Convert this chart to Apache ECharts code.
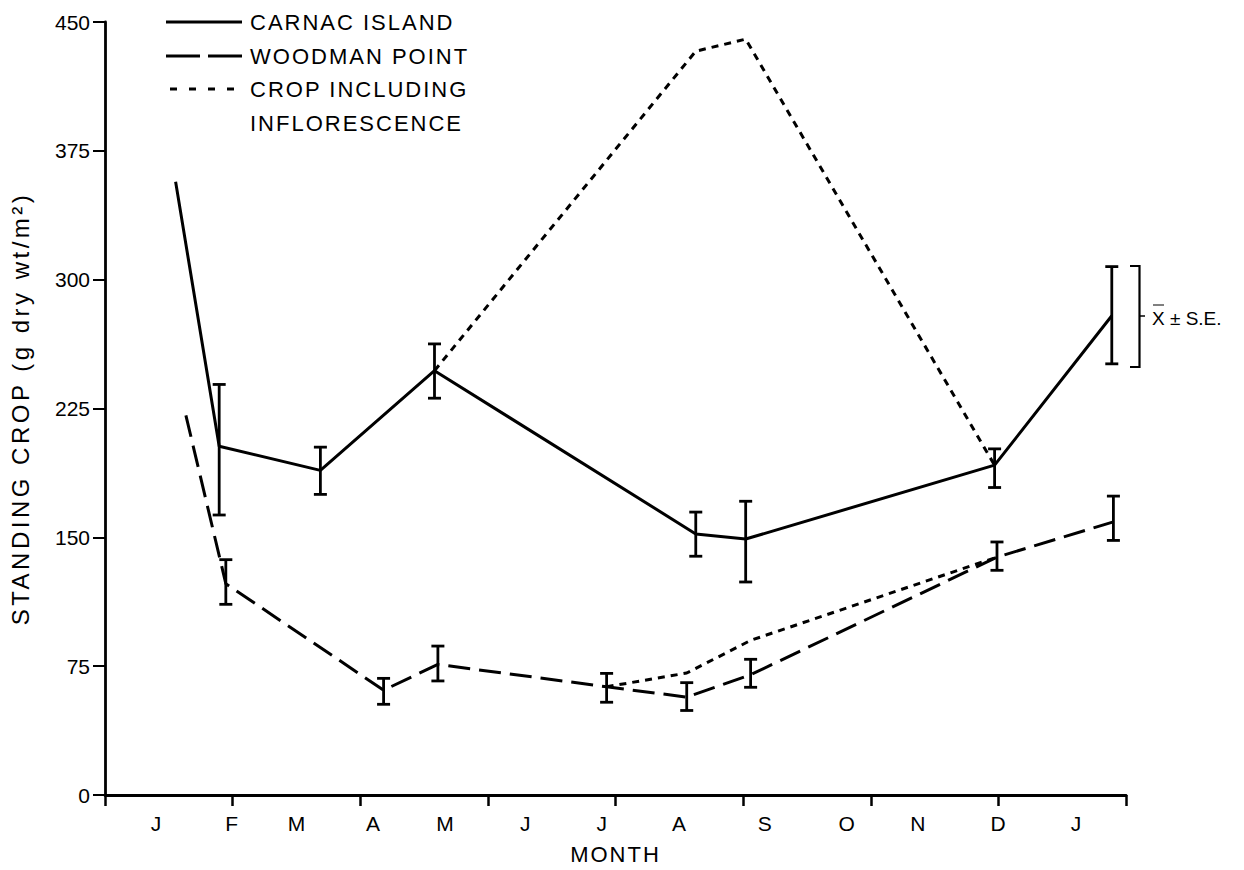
<!DOCTYPE html>
<html>
<head>
<meta charset="utf-8">
<script src="https://cdn.jsdelivr.net/npm/echarts@6/dist/echarts.min.js"></script>
<style>
  html, body { margin: 0; padding: 0; background: #fff; }
  #chart { width: 1244px; height: 870px; }
  /* the lettering of titles and key is set wide */
  #chart svg text[style*="22px"] { letter-spacing: 2px; }
  #chart svg text[style*="24px"] { letter-spacing: 3.5px; }
</style>
</head>
<body>
<div id="chart"></div>
<script>
// x values are in months, 0 = start of the first January
const monthLabels = ['J', 'F', 'M', 'A', 'M', 'J', 'J', 'A', 'S', 'O', 'N', 'D', 'J'];
const monthLabelPos = [0.66, 1.64, 2.48, 3.47, 4.40, 5.44, 6.43, 7.43, 8.54, 9.60, 10.52, 11.56, 12.57];
const sampleTickStep = 1.652;
const sampleTickCount = 9;
const yMin = 0, yMax = 450, yStep = 75;

// Carnac Island: mean standing crop with standard error limits
const carnacMonth = [0.914, 1.478, 2.788, 4.265, 7.647, 8.293, 11.515, 13.032];
const carnacMean  = [357, 203, 189, 247, 152, 149, 192, 279];
const carnacLow   = [null, 163, 175, 231, 139, 124, 179, 251];
const carnacHigh  = [null, 239, 202.5, 262.6, 164.7, 171, 201.5, 307.6];

// Woodman Point
const woodmanMonth = [1.047, 1.564, 3.606, 4.309, 6.493, 7.530, 8.357, 11.546, 13.053];
const woodmanMean  = [221, 123, 61, 76, 63, 57, 70, 138.5, 159];
const woodmanLow   = [null, 111, 52.8, 66.4, 54, 49.2, 62.7, 130.8, 148.2];
const woodmanHigh  = [null, 137, 67.9, 86.7, 70.8, 65.4, 79, 147.3, 174];

// Crop including inflorescence, above each site's vegetative crop
const inflCarnacMonth  = [4.265, 7.647, 8.293, 11.515];
const inflCarnac       = [247, 433, 440, 192];
const inflWoodmanMonth = [6.493, 7.530, 8.357, 11.546];
const inflWoodman      = [63, 71, 90, 138.5];

const INK = '#000';
const FONT = '"Liberation Sans", Arial, Helvetica, sans-serif';

const pairs = (xs, ys) => xs.map((x, i) => [x, ys[i]]);
const bars = (xs, lo, hi) => xs.map((x, i) => [x, lo[i], hi[i]]).filter(d => d[1] != null);
const sampleTicks = Array.from({ length: sampleTickCount }, (_, i) => +(i * sampleTickStep).toFixed(3));

function errorBar(params, api) {
  const x = api.value(0);
  const top = api.coord([x, api.value(2)]);
  const bot = api.coord([x, api.value(1)]);
  const half = 6.5;
  const style = { stroke: INK, lineWidth: 2.8 };
  return {
    type: 'group',
    children: [
      { type: 'line', shape: { x1: top[0], y1: top[1], x2: bot[0], y2: bot[1] }, style },
      { type: 'line', shape: { x1: top[0] - half, y1: top[1], x2: top[0] + half, y2: top[1] }, style },
      { type: 'line', shape: { x1: bot[0] - half, y1: bot[1], x2: bot[0] + half, y2: bot[1] }, style }
    ]
  };
}

const lineSeries = (name, data, type) => ({
  name, type: 'line', data, symbol: 'none', silent: true,
  lineStyle: { color: INK, width: 3, type, cap: 'butt', join: 'round' },
  z: 3
});

const barSeries = (name, data) => ({
  name, type: 'custom', data, renderItem: errorBar, silent: true,
  encode: { x: 0, y: [1, 2] }, z: 4
});

// key drawn in the top-left corner
const keyText = (x, y, text) => ({
  type: 'text', x, y,
  style: { text, fill: INK, font: '22px ' + FONT, align: 'left', verticalAlign: 'middle' }
});
const keyLine = (x1, x2, y) => ({
  type: 'line', shape: { x1, y1: y, x2, y2: y },
  style: { stroke: INK, lineWidth: 3 }
});

const graphics = [
  keyLine(166, 242, 22), keyText(250, 22, 'CARNAC ISLAND'),
  keyLine(166, 200, 56), keyLine(208, 242, 56), keyText(250, 56, 'WOODMAN POINT'),
  keyLine(170, 177, 89), keyLine(189, 196, 89), keyLine(208, 215, 89), keyLine(227, 234, 89),
  keyText(250, 89, 'CROP INCLUDING'),
  keyText(250, 123, 'INFLORESCENCE'),
  // bracket explaining the error bars
  { type: 'polyline', shape: { points: [[1130, 266], [1139.5, 266], [1139.5, 367], [1130, 367]] },
    style: { stroke: INK, lineWidth: 2.2, fill: null } },
  { type: 'line', shape: { x1: 1139.5, y1: 316, x2: 1145, y2: 316 }, style: { stroke: INK, lineWidth: 1.5 } },
  { type: 'text', x: 1152, y: 318,
    style: { text: 'X ± S.E.', fill: INK, font: '19px ' + FONT, align: 'left', verticalAlign: 'middle' } },
  { type: 'line', shape: { x1: 1153, y1: 305, x2: 1164, y2: 305 }, style: { stroke: INK, lineWidth: 1 } }
];

const chart = echarts.init(document.getElementById('chart'), null, { renderer: 'svg' });
chart.setOption({
  backgroundColor: '#fff',
  animation: false,
  grid: { left: 103, right: 118, top: 22, bottom: 73, containLabel: false },
  xAxis: {
    type: 'value',
    min: 0,
    max: sampleTicks[sampleTicks.length - 1],
    name: 'MONTH',
    nameLocation: 'middle',
    nameGap: 48,
    nameTextStyle: { color: INK, fontSize: 22, fontFamily: FONT },
    axisLine: { lineStyle: { color: INK, width: 2.8 } },
    axisTick: { show: true, customValues: sampleTicks, length: 11, lineStyle: { color: INK, width: 2.5 } },
    axisLabel: {
      customValues: monthLabelPos,
      margin: 18,
      color: INK,
      fontSize: 21,
      fontFamily: FONT,
      formatter: v => {
        const i = monthLabelPos.findIndex(p => Math.abs(p - v) < 1e-6);
        return i >= 0 ? monthLabels[i] : '';
      }
    },
    splitLine: { show: false }
  },
  yAxis: {
    type: 'value',
    min: yMin,
    max: yMax,
    interval: yStep,
    name: 'STANDING CROP (g dry wt/m²)',
    nameLocation: 'middle',
    nameGap: 73,
    nameTextStyle: { color: INK, fontSize: 24, fontFamily: FONT },
    axisLine: { show: true, lineStyle: { color: INK, width: 2.8 } },
    axisTick: { show: true, length: 12, lineStyle: { color: INK, width: 2 } },
    axisLabel: { color: INK, fontSize: 21, fontFamily: FONT, margin: 15 },
    splitLine: { show: false }
  },
  series: [
    lineSeries('CARNAC ISLAND', pairs(carnacMonth, carnacMean), 'solid'),
    lineSeries('WOODMAN POINT', pairs(woodmanMonth, woodmanMean), [22, 9]),
    lineSeries('CROP INCLUDING INFLORESCENCE', pairs(inflCarnacMonth, inflCarnac), [7, 6]),
    lineSeries('CROP INCLUDING INFLORESCENCE ', pairs(inflWoodmanMonth, inflWoodman), [7, 6]),
    barSeries('Carnac S.E.', bars(carnacMonth, carnacLow, carnacHigh)),
    barSeries('Woodman S.E.', bars(woodmanMonth, woodmanLow, woodmanHigh))
  ],
  graphic: graphics
});
</script>
</body>
</html>
